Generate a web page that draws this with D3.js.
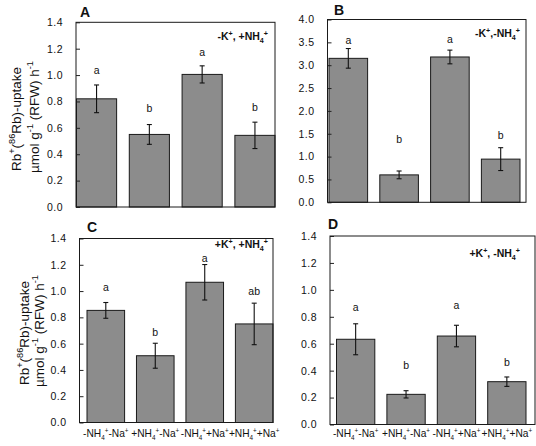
<!DOCTYPE html>
<html>
<head>
<meta charset="utf-8">
<script src="https://cdn.jsdelivr.net/npm/d3@7"></script>
<style>
  html, body { margin: 0; padding: 0; background: #fff; }
  svg { display: block; }
  text { font-family: "Liberation Sans", Arial, Helvetica, sans-serif; fill: #111; }
</style>
</head>
<body>
<svg id="chart" width="536" height="446"></svg>
<script>
// ---------------- data ----------------
const categories = ["-NH_4^+-Na^+", "+NH_4^+-Na^+", "-NH_4^++Na^+", "+NH_4^++Na^+"];

const panelTitles = ["A", "B", "C", "D"];
const conditions  = ["-K^+, +NH_4^+", "-K^+,-NH_4^+", "+K^+, +NH_4^+", "+K^+, -NH_4^+"];

const valuesA = [0.82, 0.55, 1.005, 0.543];
const errorsA = [0.105, 0.075, 0.065, 0.10];
const lettersA = ["a", "b", "a", "b"];
const letterAtA = [1.032, 0.742, 1.166, 0.752];

const valuesB = [3.15, 0.60, 3.18, 0.945];
const errorsB = [0.215, 0.085, 0.15, 0.25];
const lettersB = ["a", "b", "a", "b"];
const letterAtB = [3.53, 1.37, 3.55, 1.44];

const valuesC = [0.853, 0.508, 1.067, 0.75];
const errorsC = [0.06, 0.095, 0.135, 0.158];
const lettersC = ["a", "b", "a", "ab"];
const letterAtC = [1.024, 0.681, 1.246, 0.991];

const valuesD = [0.633, 0.224, 0.657, 0.318];
const errorsD = [0.115, 0.027, 0.08, 0.035];
const lettersD = ["a", "b", "a", "b"];
const letterAtD = [0.863, 0.435, 0.880, 0.455];

const yMaxSmall = 1.4, yStepSmall = 0.2;
const yMaxB = 4.0, yStepB = 0.5;

const yTitle1 = "Rb^+(^{86}Rb)-uptake";
const yTitle2 = "µmol g^{-1} (RFW) h^{-1}";

// ---------------- layout ----------------
const panels = [
  { title: panelTitles[0], cond: conditions[0], values: valuesA, errors: errorsA, letters: lettersA, letterAt: letterAtA,
    yMax: yMaxSmall, yStep: yStepSmall,
    frame: { x0: 76, x1: 275, y0: 22.3, y1: 207 }, bars: [76.5, 275],
    titlePos: [85, 17], condPos: [268, 40], yLabel: [16, 34, 119], xLabels: false },
  { title: panelTitles[1], cond: conditions[1], values: valuesB, errors: errorsB, letters: lettersB, letterAt: letterAtB,
    yMax: yMaxB, yStep: yStepB,
    frame: { x0: 327.5, x1: 526, y0: 19.5, y1: 202.3 }, bars: [329, 520],
    titlePos: [339, 15], condPos: [520, 37], yLabel: null, xLabels: false },
  { title: panelTitles[2], cond: conditions[2], values: valuesC, errors: errorsC, letters: lettersC, letterAt: letterAtC,
    yMax: yMaxSmall, yStep: yStepSmall,
    frame: { x0: 79.5, x1: 273, y0: 238.5, y1: 422.5 }, bars: [87, 273],
    titlePos: [92, 232], condPos: [268, 248], yLabel: [24, 39, 333], xLabels: true },
  { title: panelTitles[3], cond: conditions[3], values: valuesD, errors: errorsD, letters: lettersD, letterAt: letterAtD,
    yMax: yMaxSmall, yStep: yStepSmall,
    frame: { x0: 330, x1: 535, y0: 236, y1: 424.5 }, bars: [336.5, 526],
    titlePos: [333, 229], condPos: [520, 257], yLabel: null, xLabels: true }
];

const svg = d3.select("#chart");
const FONT = '"Liberation Sans", Arial, Helvetica, sans-serif';

// rich text: ^x / ^{..} superscript, _x / _{..} subscript
function parseRich(str) {
  const segs = [];
  let i = 0, buf = "";
  while (i < str.length) {
    const c = str[i];
    if (c === "^" || c === "_") {
      if (buf) { segs.push({ t: buf, k: "n" }); buf = ""; }
      let content;
      if (str[i + 1] === "{") {
        const j = str.indexOf("}", i + 2);
        content = str.slice(i + 2, j); i = j + 1;
      } else { content = str[i + 1]; i += 2; }
      segs.push({ t: content, k: c === "^" ? "sup" : "sub" });
    } else { buf += c; i++; }
  }
  if (buf) segs.push({ t: buf, k: "n" });
  return segs;
}
function richText(sel, str, fs, scale) {
  scale = scale || 0.68;
  const segs = parseRich(str);
  let cur = 0;
  segs.forEach(s => {
    const target = s.k === "sup" ? -0.42 * fs : s.k === "sub" ? 0.28 * fs : 0;
    sel.append("tspan")
      .attr("dy", target - cur)
      .attr("font-size", s.k === "n" ? fs : fs * scale)
      .text(s.t);
    cur = target;
  });
}

panels.forEach(p => {
  const g = svg.append("g");
  const f = p.frame;
  const y = d3.scaleLinear().domain([0, p.yMax]).range([f.y1, f.y0]);
  const x = d3.scaleBand().domain(categories).range(p.bars).paddingInner(0.24).paddingOuter(0);

  // bars
  g.selectAll("rect.bar").data(p.values).join("rect")
    .attr("class", "bar")
    .attr("x", (d, i) => x(categories[i]))
    .attr("width", x.bandwidth())
    .attr("y", d => y(d))
    .attr("height", d => y(0) - y(d))
    .attr("fill", "#8c8c8c")
    .attr("stroke", "#1a1a1a")
    .attr("stroke-width", 1);

  // error bars
  const eg = g.selectAll("g.err").data(p.values).join("g").attr("class", "err")
    .attr("stroke", "#111").attr("stroke-width", 1.1);
  eg.append("line")
    .attr("x1", (d, i) => x(categories[i]) + x.bandwidth() / 2)
    .attr("x2", (d, i) => x(categories[i]) + x.bandwidth() / 2)
    .attr("y1", (d, i) => y(d + p.errors[i]))
    .attr("y2", (d, i) => y(d - p.errors[i]));
  [1, -1].forEach(s => {
    eg.append("line")
      .attr("x1", (d, i) => x(categories[i]) + x.bandwidth() / 2 - 2.5)
      .attr("x2", (d, i) => x(categories[i]) + x.bandwidth() / 2 + 2.5)
      .attr("y1", (d, i) => y(d + s * p.errors[i]))
      .attr("y2", (d, i) => y(d + s * p.errors[i]));
  });

  // significance letters
  g.selectAll("text.let").data(p.letters).join("text")
    .attr("class", "let")
    .attr("x", (d, i) => x(categories[i]) + x.bandwidth() / 2)
    .attr("y", (d, i) => y(p.letterAt[i]) + 3)
    .attr("text-anchor", "middle")
    .attr("font-size", 10.5)
    .text(d => d);

  // y axis (inward ticks)
  const ticks = d3.range(0, p.yMax + 1e-9, p.yStep);
  const ax = d3.axisLeft(y).tickValues(ticks).tickFormat(d3.format(".1f")).tickSize(-4).tickPadding(13);
  const axg = g.append("g").attr("transform", `translate(${f.x0},0)`).call(ax);
  axg.select(".domain").remove();
  axg.selectAll(".tick line").attr("stroke", "#222");
  axg.selectAll(".tick text").attr("font-size", 10.5).attr("font-family", FONT).attr("fill", "#222")
    .attr("letter-spacing", 0.5);

  // frame
  g.append("rect")
    .attr("x", f.x0).attr("y", f.y0)
    .attr("width", f.x1 - f.x0).attr("height", f.y1 - f.y0)
    .attr("fill", "none").attr("stroke", "#1a1a1a").attr("stroke-width", 1);

  // panel title
  g.append("text").attr("x", p.titlePos[0]).attr("y", p.titlePos[1])
    .attr("text-anchor", "middle").attr("font-size", 14).attr("font-weight", "bold").text(p.title);

  // condition annotation
  const ct = g.append("text").attr("x", p.condPos[0]).attr("y", p.condPos[1])
    .attr("text-anchor", "end").attr("font-size", 10.5).attr("font-weight", "bold");
  richText(ct, p.cond, 10.5);

  // y title
  if (p.yLabel) {
    const [x1, x2, cy] = p.yLabel;
    const t1 = g.append("text").attr("transform", `translate(${x1 + 5},${cy}) rotate(-90)`)
      .attr("text-anchor", "middle").attr("font-size", 13.5);
    richText(t1, yTitle1, 13.5);
    const t2 = g.append("text").attr("transform", `translate(${x2 + 5},${cy - 2}) rotate(-90)`)
      .attr("text-anchor", "middle").attr("font-size", 13.5);
    richText(t2, yTitle2, 13.5);
  }

  // x labels
  if (p.xLabels) {
    categories.forEach(c => {
      const t = g.append("text").attr("x", x(c) + x.bandwidth() / 2).attr("y", 437)
        .attr("text-anchor", "middle").attr("font-size", 10.2);
      richText(t, c, 10.2, 0.62);
    });
  }
});
</script>
</body>
</html>
